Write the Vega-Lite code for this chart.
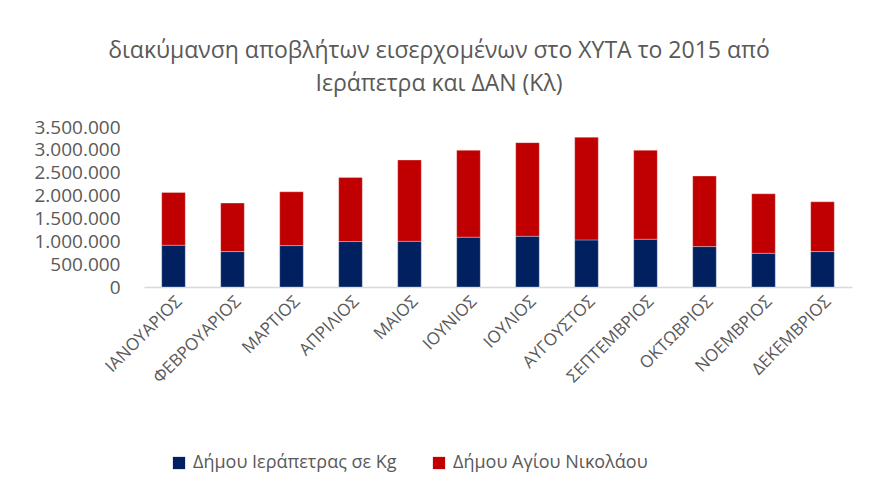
{
  "$schema": "https://vega.github.io/schema/vega-lite/v6.json",
  "autosize": {"type": "none"},
  "padding": {"left": 144, "top": 127, "right": 18, "bottom": 208},
  "width": 708,
  "height": 160,
  "background": "white",
  "title": {
    "text": ["διακύμανση αποβλήτων εισερχομένων στο ΧΥΤΑ το 2015 από", "Ιεράπετρα και ΔΑΝ (Κλ)"],
    "font": "Open Sans",
    "fontSize": 23,
    "fontWeight": "normal",
    "color": "#595959",
    "anchor": "middle",
    "dx": -59,
    "offset": 22,
    "lineHeight": 33
  },
  "data": {
    "values": [
      {"month": "ΙΑΝΟΥΑΡΙΟΣ", "series": "Δήμου Ιεράπετρας σε Kg", "value": 914000},
      {"month": "ΙΑΝΟΥΑΡΙΟΣ", "series": "Δήμου Αγίου Νικολάου", "value": 1154000},
      {"month": "ΦΕΒΡΟΥΑΡΙΟΣ", "series": "Δήμου Ιεράπετρας σε Kg", "value": 775000},
      {"month": "ΦΕΒΡΟΥΑΡΙΟΣ", "series": "Δήμου Αγίου Νικολάου", "value": 1060000},
      {"month": "ΜΑΡΤΙΟΣ", "series": "Δήμου Ιεράπετρας σε Kg", "value": 906000},
      {"month": "ΜΑΡΤΙΟΣ", "series": "Δήμου Αγίου Νικολάου", "value": 1177000},
      {"month": "ΑΠΡΙΛΙΟΣ", "series": "Δήμου Ιεράπετρας σε Kg", "value": 994000},
      {"month": "ΑΠΡΙΛΙΟΣ", "series": "Δήμου Αγίου Νικολάου", "value": 1403000},
      {"month": "ΜΑΙΟΣ", "series": "Δήμου Ιεράπετρας σε Kg", "value": 1000000},
      {"month": "ΜΑΙΟΣ", "series": "Δήμου Αγίου Νικολάου", "value": 1778000},
      {"month": "ΙΟΥΝΙΟΣ", "series": "Δήμου Ιεράπετρας σε Kg", "value": 1090000},
      {"month": "ΙΟΥΝΙΟΣ", "series": "Δήμου Αγίου Νικολάου", "value": 1900000},
      {"month": "ΙΟΥΛΙΟΣ", "series": "Δήμου Ιεράπετρας σε Kg", "value": 1110000},
      {"month": "ΙΟΥΛΙΟΣ", "series": "Δήμου Αγίου Νικολάου", "value": 2048000},
      {"month": "ΑΥΓΟΥΣΤΟΣ", "series": "Δήμου Ιεράπετρας σε Kg", "value": 1030000},
      {"month": "ΑΥΓΟΥΣΤΟΣ", "series": "Δήμου Αγίου Νικολάου", "value": 2245000},
      {"month": "ΣΕΠΤΕΜΒΡΙΟΣ", "series": "Δήμου Ιεράπετρας σε Kg", "value": 1045000},
      {"month": "ΣΕΠΤΕΜΒΡΙΟΣ", "series": "Δήμου Αγίου Νικολάου", "value": 1945000},
      {"month": "ΟΚΤΩΒΡΙΟΣ", "series": "Δήμου Ιεράπετρας σε Kg", "value": 884000},
      {"month": "ΟΚΤΩΒΡΙΟΣ", "series": "Δήμου Αγίου Νικολάου", "value": 1543000},
      {"month": "ΝΟΕΜΒΡΙΟΣ", "series": "Δήμου Ιεράπετρας σε Kg", "value": 738000},
      {"month": "ΝΟΕΜΒΡΙΟΣ", "series": "Δήμου Αγίου Νικολάου", "value": 1301000},
      {"month": "ΔΕΚΕΜΒΡΙΟΣ", "series": "Δήμου Ιεράπετρας σε Kg", "value": 775000},
      {"month": "ΔΕΚΕΜΒΡΙΟΣ", "series": "Δήμου Αγίου Νικολάου", "value": 1089000}
    ]
  },
  "mark": {"type": "bar", "stroke": "white", "strokeWidth": 0.5, "strokeOpacity": 0.6},
  "encoding": {
    "x": {
      "field": "month",
      "type": "nominal",
      "sort": ["ΙΑΝΟΥΑΡΙΟΣ", "ΦΕΒΡΟΥΑΡΙΟΣ", "ΜΑΡΤΙΟΣ", "ΑΠΡΙΛΙΟΣ", "ΜΑΙΟΣ", "ΙΟΥΝΙΟΣ", "ΙΟΥΛΙΟΣ", "ΑΥΓΟΥΣΤΟΣ", "ΣΕΠΤΕΜΒΡΙΟΣ", "ΟΚΤΩΒΡΙΟΣ", "ΝΟΕΜΒΡΙΟΣ", "ΔΕΚΕΜΒΡΙΟΣ"],
      "scale": {"paddingInner": 0.6, "paddingOuter": 0.3},
      "axis": {
        "title": null,
        "labelAngle": -45,
        "labelFont": "Open Sans",
        "labelFontSize": 17,
        "labelColor": "#595959",
        "labelPadding": 6,
        "ticks": false,
        "domainColor": "#d9d9d9",
        "domainWidth": 1.5
      }
    },
    "y": {
      "field": "value",
      "type": "quantitative",
      "aggregate": "sum",
      "stack": "zero",
      "scale": {"domain": [0, 3500000], "nice": false},
      "axis": {
        "title": null,
        "values": [0, 500000, 1000000, 1500000, 2000000, 2500000, 3000000, 3500000],
        "labelExpr": "replace(format(datum.value, ','), /,/g, '.')",
        "labelFont": "Open Sans",
        "labelFontSize": 19,
        "labelColor": "#595959",
        "labelPadding": 24,
        "ticks": false,
        "domain": false,
        "grid": false
      }
    },
    "color": {
      "field": "series",
      "type": "nominal",
      "sort": ["Δήμου Ιεράπετρας σε Kg", "Δήμου Αγίου Νικολάου"],
      "scale": {"domain": ["Δήμου Ιεράπετρας σε Kg", "Δήμου Αγίου Νικολάου"], "range": ["#002060", "#C00000"]},
      "legend": {
        "title": null,
        "orient": "none",
        "direction": "horizontal",
        "legendX": 26,
        "legendY": 327,
        "symbolType": "square",
        "symbolSize": 150,
        "symbolStrokeWidth": 0,
        "symbolOpacity": 1,
        "labelFont": "Open Sans",
        "labelFontSize": 18,
        "labelColor": "#595959",
        "labelOffset": 5,
        "columnPadding": 33,
        "labelLimit": 400
      }
    }
  },
  "config": {"view": {"stroke": null}}
}
